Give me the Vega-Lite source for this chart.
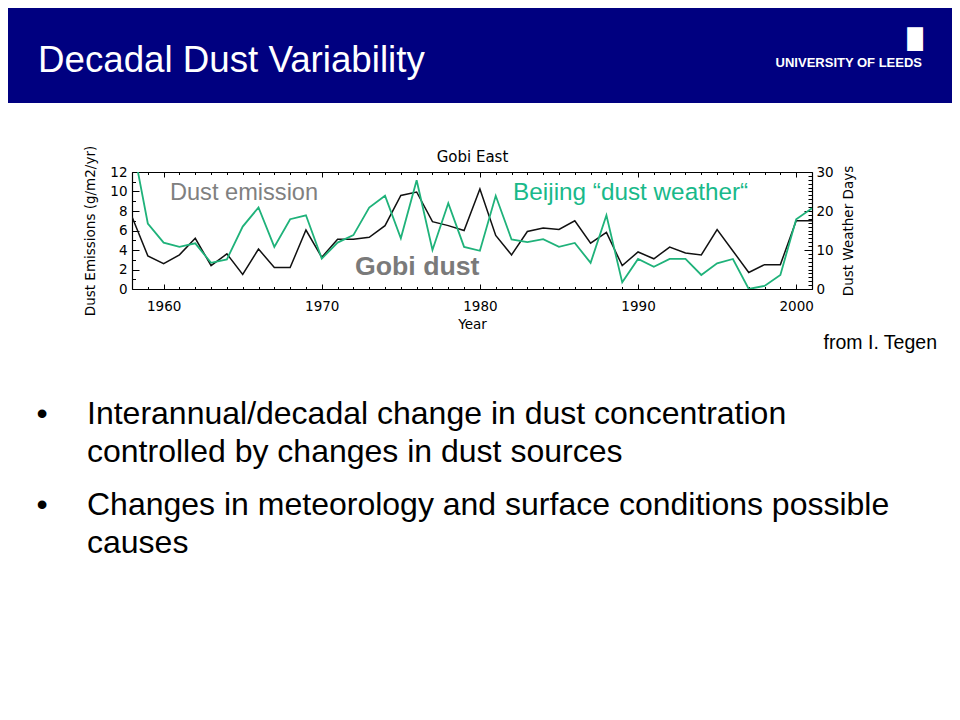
{
  "$schema": "https://vega.github.io/schema/vega-lite/v6.json",
  "padding": {"left": 8, "top": 8, "right": 8, "bottom": 8},
  "background": "white",
  "spacing": 69,
  "bounds": "flush",
  "center": true,
  "config": {
    "view": {"stroke": null},
    "font": "Liberation Sans",
    "axis": {
      "grid": false,
      "domainColor": "black",
      "domainWidth": 1.2,
      "tickColor": "black",
      "tickWidth": 1,
      "labelColor": "black",
      "labelFont": "DejaVu Sans",
      "labelFontSize": 13.5,
      "titleFont": "DejaVu Sans",
      "titleFontSize": 13.5,
      "titleFontWeight": "normal",
      "titleColor": "black",
      "labelOverlap": false,
      "labelFlush": false
    }
  },
  "datasets": {
    "headerTitle": [{"side": "left", "label": "Decadal Dust Variability"}],
    "headerLogo": [{"side": "right", "label": "UNIVERSITY OF LEEDS"}],
    "series": [
      {"year": 1958, "emission": 7.4, "beijing": 38},
      {"year": 1959, "emission": 3.4, "beijing": 16.8},
      {"year": 1960, "emission": 2.6, "beijing": 11.9},
      {"year": 1961, "emission": 3.5, "beijing": 10.8},
      {"year": 1962, "emission": 5.2, "beijing": 11.7},
      {"year": 1963, "emission": 2.4, "beijing": 6.7},
      {"year": 1964, "emission": 3.6, "beijing": 7.6},
      {"year": 1965, "emission": 1.5, "beijing": 16},
      {"year": 1966, "emission": 4.1, "beijing": 20.9},
      {"year": 1967, "emission": 2.2, "beijing": 10.8},
      {"year": 1968, "emission": 2.2, "beijing": 17.9},
      {"year": 1969, "emission": 6.05, "beijing": 18.9},
      {"year": 1970, "emission": 3.25, "beijing": 7.8},
      {"year": 1971, "emission": 5.1, "beijing": 11.9},
      {"year": 1972, "emission": 5.1, "beijing": 13.8},
      {"year": 1973, "emission": 5.3, "beijing": 20.9},
      {"year": 1974, "emission": 6.5, "beijing": 23.9},
      {"year": 1975, "emission": 9.6, "beijing": 13},
      {"year": 1976, "emission": 9.95, "beijing": 27.9},
      {"year": 1977, "emission": 6.9, "beijing": 10},
      {"year": 1978, "emission": 6.5, "beijing": 22},
      {"year": 1979, "emission": 6.0, "beijing": 10.8},
      {"year": 1980, "emission": 10.25, "beijing": 9.8},
      {"year": 1981, "emission": 5.5, "beijing": 23.9},
      {"year": 1982, "emission": 3.5, "beijing": 12.7},
      {"year": 1983, "emission": 5.9, "beijing": 12},
      {"year": 1984, "emission": 6.25, "beijing": 12.8},
      {"year": 1985, "emission": 6.1, "beijing": 10.8},
      {"year": 1986, "emission": 7.0, "beijing": 11.8},
      {"year": 1987, "emission": 4.7, "beijing": 6.7},
      {"year": 1988, "emission": 5.8, "beijing": 18.9},
      {"year": 1989, "emission": 2.4, "beijing": 1.7},
      {"year": 1990, "emission": 3.8, "beijing": 7.7},
      {"year": 1991, "emission": 3.1, "beijing": 5.7},
      {"year": 1992, "emission": 4.3, "beijing": 7.7},
      {"year": 1993, "emission": 3.7, "beijing": 7.7},
      {"year": 1994, "emission": 3.5, "beijing": 3.6},
      {"year": 1995, "emission": 6.1, "beijing": 6.6},
      {"year": 1996, "emission": 3.9, "beijing": 7.7},
      {"year": 1997, "emission": 1.7, "beijing": 0},
      {"year": 1998, "emission": 2.5, "beijing": 0.8},
      {"year": 1999, "emission": 2.5, "beijing": 3.6},
      {"year": 2000, "emission": 7.0, "beijing": 17.9},
      {"year": 2001, "emission": 7.0, "beijing": 20.7}
    ],
    "annEmission": [{"label": "Dust emission", "year": 1960.4, "value": 9.85}],
    "annBeijing": [{"label": "Beijing “dust weather“", "year": 1982.1, "value": 9.85}],
    "annGobi": [{"label": "Gobi dust", "year": 1972.1, "value": 2.26}],
    "bullets": [
      {"item": 1, "lines": ["Interannual/decadal change in dust concentration", "controlled by changes in dust sources"]},
      {"item": 2, "lines": ["Changes in meteorology and surface conditions possible", "causes"]}
    ]
  },
  "vconcat": [
    {
      "width": 944,
      "height": 95,
      "view": {"fill": "#000080", "stroke": null},
      "layer": [
        {
          "data": {"name": "headerTitle"},
          "mark": {"type": "text", "align": "left", "baseline": "alphabetic", "dx": 30, "dy": 16.5, "font": "Liberation Sans", "fontSize": 36.7, "color": "white"},
          "encoding": {
            "x": {"field": "side", "type": "nominal", "scale": {"type": "point", "padding": 0, "domain": ["left", "right"]}, "axis": null},
            "text": {"field": "label"}
          }
        },
        {
          "data": {"name": "headerLogo"},
          "mark": {"type": "text", "align": "right", "baseline": "alphabetic", "dx": -30, "dy": 11.5, "font": "Liberation Sans", "fontWeight": "bold", "fontSize": 13, "color": "white"},
          "encoding": {
            "x": {"field": "side", "type": "nominal", "scale": {"type": "point", "padding": 0, "domain": ["left", "right"]}, "axis": null},
            "text": {"field": "label"}
          }
        },
        {
          "data": {"name": "headerLogo"},
          "mark": {"type": "text", "align": "center", "baseline": "middle", "dx": -37, "dy": -15.5, "font": "DejaVu Sans", "fontSize": 20, "color": "white", "text": "█"},
          "encoding": {
            "x": {"field": "side", "type": "nominal", "scale": {"type": "point", "padding": 0, "domain": ["left", "right"]}, "axis": null}
          }
        }
      ]
    },
    {
      "width": 696,
      "height": 117,
      "view": {"stroke": null},
      "title": {"text": "from I. Tegen", "orient": "bottom", "anchor": "end", "frame": "group", "font": "Liberation Sans", "fontSize": 19.5, "fontWeight": "normal", "color": "black", "dx": 109, "offset": 3},
      "layer": [
        {
          "data": {"name": "series"},
          "mark": {"type": "line", "color": "#111111", "strokeWidth": 1.5, "clip": true},
          "encoding": {
            "x": {
              "field": "year", "type": "quantitative",
              "scale": {"domain": [1958, 2001], "range": [0, 680], "nice": false, "zero": false},
              "axis": {
                "orient": "bottom",
                "title": "Year",
                "titlePadding": 2,
                "format": "d",
                "values": [1958,1959,1960,1961,1962,1963,1964,1965,1966,1967,1968,1969,1970,1971,1972,1973,1974,1975,1976,1977,1978,1979,1980,1981,1982,1983,1984,1985,1986,1987,1988,1989,1990,1991,1992,1993,1994,1995,1996,1997,1998,1999,2000,2001],
                "labelExpr": "datum.value % 10 === 0 ? datum.label : ''",
                "tickSize": {"condition": {"test": "datum.value % 10 === 0", "value": -5}, "value": -2.5},
                "labelPadding": 15
              }
            },
            "y": {
              "field": "emission", "type": "quantitative",
              "scale": {"domain": [0, 12], "nice": false, "zero": false},
              "axis": {
                "orient": "left",
                "title": "Dust Emissions (g/m2/yr)",
                "titlePadding": 12,
                "format": "d",
                "values": [0,0.5,1,1.5,2,2.5,3,3.5,4,4.5,5,5.5,6,6.5,7,7.5,8,8.5,9,9.5,10,10.5,11,11.5,12],
                "labelExpr": "datum.value % 2 === 0 ? datum.label : ''",
                "tickSize": {"condition": {"test": "datum.value % 2 === 0", "value": -7}, "value": -3.5},
                "labelPadding": 12
              }
            }
          }
        },
        {
          "data": {"name": "series"},
          "mark": {"type": "line", "color": "#1fb27a", "strokeWidth": 1.8, "clip": true},
          "encoding": {
            "x": {
              "field": "year", "type": "quantitative",
              "scale": {"domain": [1958, 2001], "range": [0, 680], "nice": false, "zero": false},
              "axis": {
                "orient": "top",
                "title": "Gobi East",
                "titleFontSize": 15,
                "titlePadding": 7,
                "labels": false,
                "values": [1958,1959,1960,1961,1962,1963,1964,1965,1966,1967,1968,1969,1970,1971,1972,1973,1974,1975,1976,1977,1978,1979,1980,1981,1982,1983,1984,1985,1986,1987,1988,1989,1990,1991,1992,1993,1994,1995,1996,1997,1998,1999,2000,2001],
                "tickSize": {"condition": {"test": "datum.value % 10 === 0", "value": -5}, "value": -2.5}
              }
            },
            "y": {
              "field": "beijing", "type": "quantitative",
              "scale": {"domain": [0, 30], "nice": false, "zero": false},
              "axis": {
                "orient": "right",
                "offset": -16,
                "title": "Dust Weather Days",
                "titleAngle": 270,
                "titleBaseline": "top",
                "titlePadding": 8,
                "format": "d",
                "values": [0,1,2,3,4,5,6,7,8,9,10,11,12,13,14,15,16,17,18,19,20,21,22,23,24,25,26,27,28,29,30],
                "labelExpr": "datum.value % 10 === 0 ? datum.label : ''",
                "tickSize": {"condition": {"test": "datum.value % 10 === 0", "value": -8}, "value": -4},
                "labelPadding": 12
              }
            }
          }
        },
        {
          "data": {"name": "annEmission"},
          "mark": {"type": "text", "align": "left", "baseline": "middle", "font": "Liberation Sans", "fontSize": 23.6, "color": "#808080"},
          "encoding": {
            "x": {"field": "year", "type": "quantitative", "scale": {"domain": [1958, 2001], "range": [0, 680], "nice": false, "zero": false}, "axis": null},
            "y": {"field": "value", "type": "quantitative", "scale": {"domain": [0, 12], "nice": false, "zero": false}, "axis": null},
            "text": {"field": "label"}
          }
        },
        {
          "data": {"name": "annBeijing"},
          "mark": {"type": "text", "align": "left", "baseline": "middle", "font": "Liberation Sans", "fontSize": 24.3, "color": "#19b98a"},
          "encoding": {
            "x": {"field": "year", "type": "quantitative", "scale": {"domain": [1958, 2001], "range": [0, 680], "nice": false, "zero": false}, "axis": null},
            "y": {"field": "value", "type": "quantitative", "scale": {"domain": [0, 12], "nice": false, "zero": false}, "axis": null},
            "text": {"field": "label"}
          }
        },
        {
          "data": {"name": "annGobi"},
          "mark": {"type": "text", "align": "left", "baseline": "middle", "font": "Liberation Sans", "fontWeight": "bold", "fontSize": 26.7, "color": "#7a7a7a"},
          "encoding": {
            "x": {"field": "year", "type": "quantitative", "scale": {"domain": [1958, 2001], "range": [0, 680], "nice": false, "zero": false}, "axis": null},
            "y": {"field": "value", "type": "quantitative", "scale": {"domain": [0, 12], "nice": false, "zero": false}, "axis": null},
            "text": {"field": "label"}
          }
        }
      ],
      "resolve": {"scale": {"y": "independent"}, "axis": {"x": "independent", "y": "independent"}}
    },
    {
      "width": 944,
      "height": 91,
      "data": {"name": "bullets"},
      "encoding": {
        "y": {"field": "item", "type": "ordinal", "scale": {"type": "point", "padding": 0}, "axis": null}
      },
      "layer": [
        {
          "mark": {"type": "text", "align": "left", "baseline": "alphabetic", "dx": -393, "dy": 65.5, "font": "Liberation Sans", "fontSize": 32, "lineHeight": 38, "color": "black"},
          "encoding": {"text": {"field": "lines"}}
        },
        {
          "mark": {"type": "text", "align": "center", "baseline": "alphabetic", "dx": -438, "dy": 65.5, "font": "Liberation Sans", "fontSize": 32, "color": "black", "text": "•"},
          "encoding": {}
        }
      ]
    }
  ]
}
